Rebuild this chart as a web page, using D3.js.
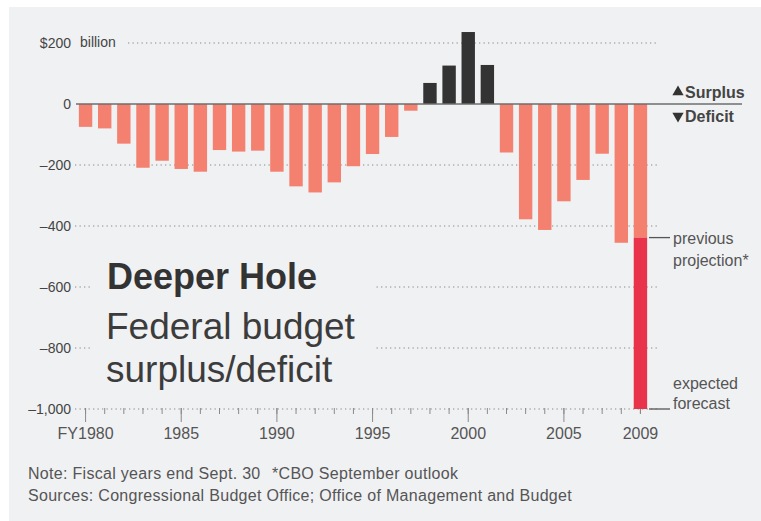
<!DOCTYPE html>
<html>
<head>
<meta charset="utf-8">
<script src="https://cdn.jsdelivr.net/npm/d3@7"></script>
<style>
  body { margin: 0; background: #fff; }
  svg { display: block; }
</style>
</head>
<body>
<div id="chart"></div>
<script>
// fiscal years and surplus/deficit, $ billions
const years = d3.range(1980, 2010);
const balances = [
  -75, -80, -130, -209, -186, -213, -222, -151, -156, -153,
  -222, -270, -290, -257, -204, -164, -108, -22, 69, 126,
  236, 128, -159, -378, -413, -319, -249, -163, -455, -438
];
const forecast2009 = -1000;     // expected
const previousProjection = -438; // CBO September outlook
const yTicks = [200, 0, -200, -400, -600, -800, -1000];
const majorYears = [1980, 1985, 1990, 1995, 2000, 2005];
const labelYears = [1980, 1985, 1990, 1995, 2000, 2005, 2009];
const noteLines = [
  "Note: Fiscal years end Sept. 30",
  "*CBO September outlook",
  "Sources: Congressional Budget Office; Office of Management and Budget"
];

const width = 761, height = 521;
const panelColor = "#f0f1f3";
const salmon = "#f4806f", red = "#e8334a", dark = "#333333";

const svg = d3.select("#chart").append("svg")
  .attr("width", width)
  .attr("height", height);

svg.append("rect")
  .attr("x", 9).attr("y", 7)
  .attr("width", width - 9).attr("height", height - 7)
  .attr("fill", panelColor);

const x = d3.scaleBand()
  .domain(years)
  .range([76, 650])
  .paddingInner(0.3)
  .paddingOuter(0.15);

const y = d3.scaleLinear()
  .domain([-1000, 200])
  .range([409, 43]);

// gridlines
const grid = svg.append("g");
grid.selectAll("line")
  .data(yTicks.filter(d => d !== 0))
  .enter()
  .append("line")
  .attr("x1", d => d === 200 ? 128 : 75)
  .attr("x2", 658)
  .attr("y1", d => y(d))
  .attr("y2", d => y(d))
  .attr("stroke", "#8a8a8a")
  .attr("stroke-width", 1)
  .attr("stroke-dasharray", "1.3,3.2");

// y labels
const yAxis = d3.axisLeft(y)
  .tickValues(yTicks)
  .tickSize(0)
  .tickPadding(0)
  .tickFormat(d => d === 200 ? "$200" : (d < 0 ? "\u2013" + d3.format(",")(-d) : d));

const yG = svg.append("g")
  .attr("transform", "translate(71,0)")
  .call(yAxis);
yG.select(".domain").remove();
yG.selectAll("text")
  .attr("font-family", "Liberation Sans, Arial, sans-serif")
  .attr("font-size", 14)
  .attr("fill", "#444");

svg.append("text")
  .attr("x", 80).attr("y", y(200))
  .attr("dy", "0.32em")
  .attr("font-family", "Liberation Sans, Arial, sans-serif")
  .attr("font-size", 14)
  .attr("fill", "#444")
  .text("billion");

// x ticks (minor + major) and labels
const minorAxis = d3.axisBottom(x)
  .tickValues(years)
  .tickSize(6)
  .tickFormat("");
const minorG = svg.append("g")
  .attr("transform", `translate(0,${y(-1000) - 1})`)
  .call(minorAxis);
minorG.select(".domain").remove();
minorG.selectAll("line").attr("stroke", "#8a8a8a");

const majorAxis = d3.axisBottom(x)
  .tickValues(labelYears)
  .tickSize(14)
  .tickPadding(6)
  .tickFormat(d => d === 1980 ? "FY1980" : d);
const majorG = svg.append("g")
  .attr("transform", `translate(0,${y(-1000) - 1})`)
  .call(majorAxis);
majorG.select(".domain").remove();
majorG.selectAll("line")
  .attr("stroke", "#8a8a8a")
  .attr("y2", d => d === 2009 ? 6 : 14);
majorG.selectAll("text")
  .attr("font-family", "Liberation Sans Narrow, Arial Narrow, sans-serif")
  .attr("font-size", 16)
  .attr("fill", "#555");

// title block, masking the gridlines behind it
svg.append("rect")
  .attr("x", 92).attr("y", 250)
  .attr("width", 284).attr("height", 145)
  .attr("fill", panelColor);

const title = svg.append("g")
  .attr("font-family", "Liberation Sans, Arial, sans-serif");
title.append("text")
  .attr("x", 107).attr("y", 289)
  .attr("font-size", 36)
  .attr("font-weight", "bold")
  .attr("fill", dark)
  .text("Deeper Hole");
title.append("text")
  .attr("x", 106).attr("y", 339)
  .attr("font-size", 37)
  .attr("fill", "#3c3c3c")
  .text("Federal budget");
title.append("text")
  .attr("x", 106).attr("y", 382)
  .attr("font-size", 37)
  .attr("fill", "#3c3c3c")
  .text("surplus/deficit");

// bars
const bars = svg.append("g");
bars.selectAll("rect")
  .data(years.map((yr, i) => ({ year: yr, value: balances[i] })))
  .enter()
  .append("rect")
  .attr("x", d => x(d.year))
  .attr("width", x.bandwidth())
  .attr("y", d => y(Math.max(0, d.value)))
  .attr("height", d => Math.abs(y(d.value) - y(0)))
  .attr("fill", d => d.value >= 0 ? dark : salmon);

// 2009 forecast beyond the previous projection
bars.append("rect")
  .attr("x", x(2009))
  .attr("width", x.bandwidth())
  .attr("y", y(previousProjection))
  .attr("height", y(forecast2009) - y(previousProjection))
  .attr("fill", red);

// zero line
svg.append("line")
  .attr("x1", 76).attr("x2", 742)
  .attr("y1", y(0)).attr("y2", y(0))
  .attr("stroke", "#6e6e6e")
  .attr("stroke-width", 1.6);

// surplus / deficit key
const key = svg.append("g")
  .attr("font-family", "Liberation Sans, Arial, sans-serif")
  .attr("font-size", 16)
  .attr("font-weight", "bold")
  .attr("fill", "#444");
key.append("path")
  .attr("d", d3.symbol(d3.symbolTriangle, 55)())
  .attr("transform", `translate(678,${y(0) - 12})`)
  .attr("fill", dark);
key.append("path")
  .attr("d", d3.symbol(d3.symbolTriangle, 55)())
  .attr("transform", `translate(678,${y(0) + 12}) rotate(180)`)
  .attr("fill", dark);
key.append("text")
  .attr("x", 685).attr("y", y(0) - 12)
  .attr("dy", "0.36em")
  .text("Surplus");
key.append("text")
  .attr("x", 685).attr("y", y(0) + 12)
  .attr("dy", "0.36em")
  .text("Deficit");

// 2009 annotations
const ann = svg.append("g")
  .attr("font-family", "Liberation Sans, Arial, sans-serif")
  .attr("font-size", 16)
  .attr("fill", "#555");
[previousProjection, forecast2009].forEach(v => {
  ann.append("line")
    .attr("x1", 649).attr("x2", 670)
    .attr("y1", y(v)).attr("y2", y(v))
    .attr("stroke", "#555")
    .attr("stroke-width", 1.3);
});
ann.append("text").attr("x", 673).attr("y", y(previousProjection) + 6).text("previous");
ann.append("text").attr("x", 673).attr("y", y(previousProjection) + 28).text("projection*");
ann.append("text").attr("x", 673).attr("y", y(forecast2009) - 20).text("expected");
ann.append("text").attr("x", 673).attr("y", y(forecast2009) + 0).text("forecast");

// notes
const notes = svg.append("g")
  .attr("font-family", "Liberation Sans, Arial, sans-serif")
  .attr("font-size", 16)
  .attr("letter-spacing", 0.3)
  .attr("fill", "#555");
notes.append("text").attr("x", 28).attr("y", 479).text(noteLines[0]);
notes.append("text").attr("x", 272).attr("y", 479).text(noteLines[1]);
notes.append("text").attr("x", 28).attr("y", 501).text(noteLines[2]);
</script>
</body>
</html>
